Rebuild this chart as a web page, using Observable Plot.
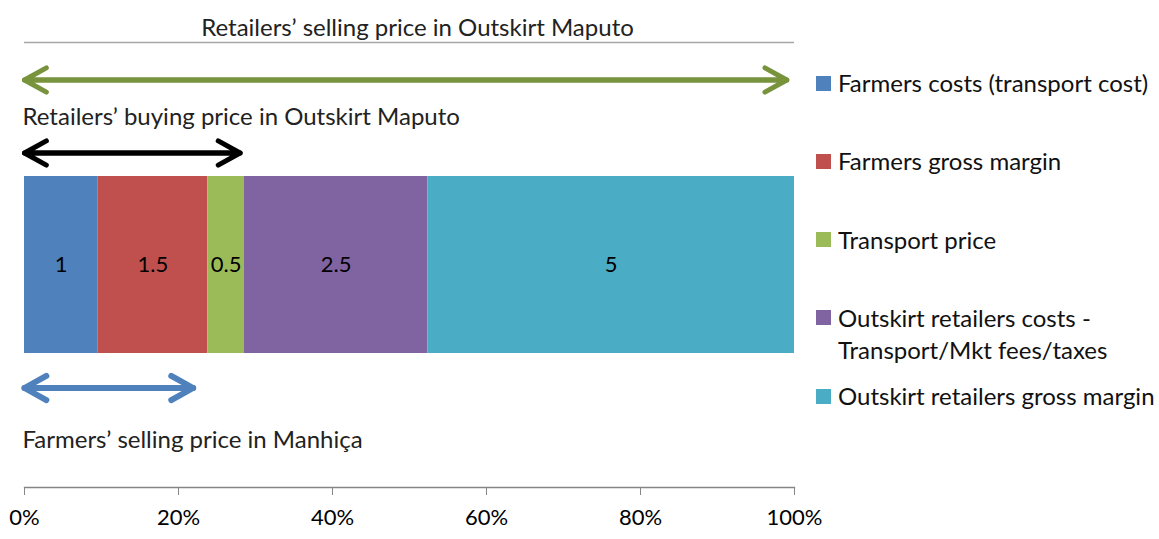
<!DOCTYPE html>
<html>
<head>
<meta charset="utf-8">
<script src="https://cdn.jsdelivr.net/npm/d3@7"></script>
<script src="https://cdn.jsdelivr.net/npm/@observablehq/plot@0.6"></script>
<style>
  html, body { margin: 0; padding: 0; background: #fff; }
  #wrap { position: relative; width: 1159px; height: 539px; font-family: Lato, "Open Sans", sans-serif; }
  #legend { position: absolute; left: 816px; top: 0; }
  .item { position: absolute; left: 0; display: flex; align-items: flex-start; white-space: nowrap; color: #111; font-size: 24px; line-height: 32px; }
  .sw { width: 15px; height: 15px; margin-top: 8.5px; margin-right: 7px; flex: none; }
</style>
</head>
<body>
<div id="wrap"><div id="legend"></div></div>
<script>
// ---- data ----
const categories = [
  "Farmers costs (transport cost)",
  "Farmers gross margin",
  "Transport price",
  "Outskirt retailers costs - Transport/Mkt fees/taxes",
  "Outskirt retailers gross margin"
];
const legendLines = [
  ["Farmers costs (transport cost)"],
  ["Farmers gross margin"],
  ["Transport price"],
  ["Outskirt retailers costs -", "Transport/Mkt fees/taxes"],
  ["Outskirt retailers gross margin"]
];
const values = [1, 1.5, 0.5, 2.5, 5];
const priceLabels = [
  "Retailers’ selling price in Outskirt Maputo",
  "Retailers’ buying price in Outskirt Maputo",
  "Farmers’ selling price in Manhiça"
];
const priceShares = [0.99, 0.28, 0.219];
const tickValues = [0, 0.2, 0.4, 0.6, 0.8, 1];

// ---- styles ----
const colors = ["#4F81BD", "#C0504D", "#9BBB59", "#8064A2", "#4BACC6"];
const arrowColors = ["#77933C", "#000000", "#4F81BD"];
const arrowWidths = [5, 5, 6];

const rows = categories.map((c, i) => ({category: c, value: values[i], row: "Price"}));

// layout (pixels)
const barTop = 176, barBottom = 353;
const centre = (barTop + barBottom) / 2;
const arrowY = [79.5, 152.5, 387.5];
const labelY = [28, 117, 440];
const titleRuleY = 42;

const marks = [
  Plot.barX(rows, Plot.stackX({x: "value", y: "row", fill: "category", offset: "normalize"})),
  Plot.textX(rows, Plot.stackX({x: "value", y: "row", text: d => String(d.value), offset: "normalize",
    fill: "#000", fontSize: 22})),
  Plot.frame({anchor: "bottom", stroke: "#868686", strokeWidth: 1.3}),
  Plot.axisX({ticks: tickValues, tickFormat: d3.format(".0%"), tickSize: 8, tickPadding: 14,
    fontSize: 22, stroke: "#868686", color: "#000", label: null}),
  Plot.ruleY(["Price"], {x1: () => 0, x2: () => 1, y: () => "Price", dy: titleRuleY - centre, stroke: "#A6A6A6", strokeWidth: 1.5})
];

priceLabels.forEach((lab, i) => {
  const d = [{label: lab, end: priceShares[i]}];
  const common = {y1: () => "Price", y2: () => "Price", dy: arrowY[i] - centre, stroke: arrowColors[i],
    strokeWidth: arrowWidths[i], headLength: 7.5 * 5 / arrowWidths[i], headAngle: 58,
    strokeLinecap: "round", strokeLinejoin: "round"};
  marks.push(Plot.arrow(d, {x1: () => 0, x2: "end", ...common}));
  marks.push(Plot.arrow(d, {x1: "end", x2: () => 0, ...common}));
  marks.push(Plot.text(d, {
    x: i === 0 ? () => 0.5 : () => 0,
    y: () => "Price",
    text: "label",
    textAnchor: i === 0 ? "middle" : "start",
    dx: i === 0 ? 8 : -2,
    dy: labelY[i] - centre,
    fontSize: 24,
    fill: "#222"
  }));
});

const chart = Plot.plot({
  width: 1159,
  height: 539,
  marginLeft: 24,
  marginRight: 365,
  marginTop: 20,
  marginBottom: 52,
  style: {fontFamily: "Lato, 'Open Sans', sans-serif", background: "#fff", overflow: "visible"},
  x: {domain: [0, 1], axis: null},
  y: {type: "band", domain: ["Price"], range: [barTop, barBottom], padding: 0, axis: null},
  color: {domain: categories, range: colors},
  marks
});
document.getElementById("wrap").prepend(chart);

// legend
const legend = document.getElementById("legend");
legendLines.forEach((lines, i) => {
  const item = document.createElement("div");
  item.className = "item";
  item.style.top = (83.5 + i * 78.3 - 16.5) + "px";
  const sw = document.createElement("div");
  sw.className = "sw";
  sw.style.background = colors[i];
  const txt = document.createElement("div");
  txt.innerHTML = lines.join("<br>");
  item.append(sw, txt);
  legend.append(item);
});
</script>
</body>
</html>
